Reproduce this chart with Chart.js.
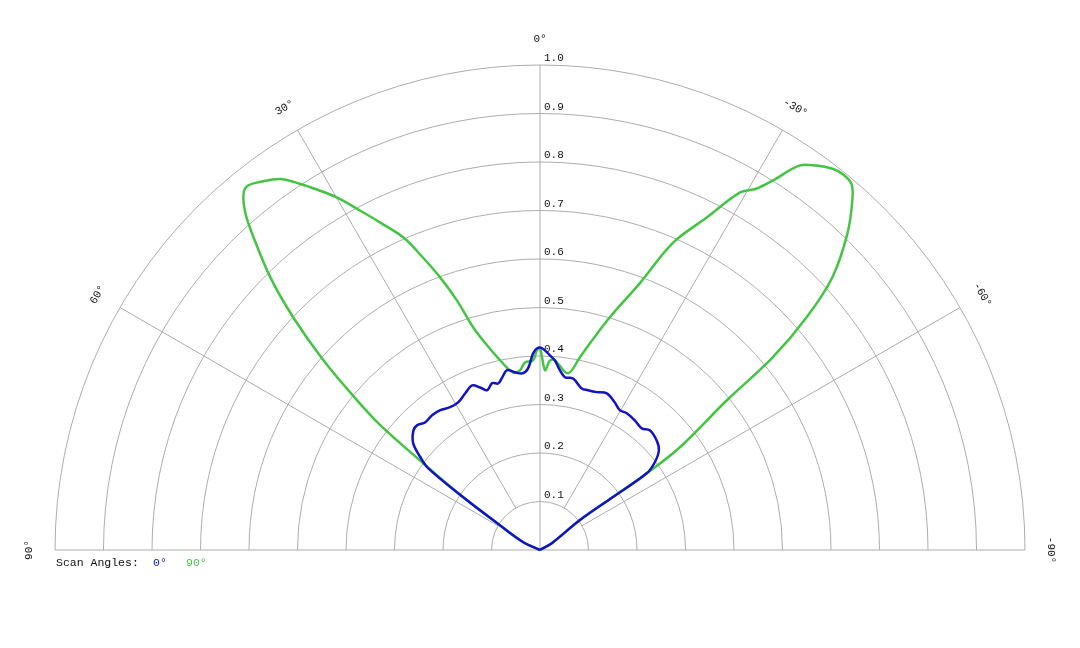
<!DOCTYPE html>
<html>
<head>
<meta charset="utf-8">
<script src="https://cdn.jsdelivr.net/npm/chart.js@4"></script>
<style>
  html, body { margin: 0; padding: 0; background: #fff; }
  #wrap { width: 1080px; height: 648px; position: relative; }
</style>
</head>
<body>
<div id="wrap"><canvas id="polarChart"></canvas></div>
<script>
// angles in degrees, positive to the left of 0°
const scanLabels = ["0°", "90°"];

const blueAngles = [90, 64.8, 57.9, 55.5, 53.8, 52.2, 49.9, 46.6, 44.5, 41.9, 38.7, 35.5, 32.2, 29.0,
    25.5, 22.4, 20.2, 18.3, 16.0, 14.1, 12.4, 10.4, 8.0, 5.8, 3.8, 2.0, 0.8, -0.6, -2.9, -4.5,
    -6.3, -8.2, -10.9, -14.5, -16.7, -19.8, -23.1, -26.9, -29.7, -32.4, -36.2, -39.9, -42.5,
    -46.8, -50.0, -52.6, -54.3, -54.0, -53.1, -59.7, -90];
const blueValues = [0, 0.039, 0.104, 0.192, 0.286, 0.312, 0.342, 0.359, 0.361, 0.354, 0.356, 0.354, 0.348, 0.348,
    0.358, 0.367, 0.357, 0.347, 0.358, 0.354, 0.364, 0.377, 0.370, 0.366, 0.375, 0.406, 0.416, 0.416, 0.402, 0.392,
    0.373, 0.360, 0.360, 0.344, 0.344, 0.346, 0.351, 0.341, 0.332, 0.334, 0.331, 0.327, 0.335,
    0.330, 0.320, 0.298, 0.271, 0.186, 0.103, 0.029, 0];

const greenAngles = [90, 64.8, 57.9, 55.5, 53.4, 52.0, 50.6, 48.8, 46.7, 44.7, 42.5, 41.2, 39.8, 38.8,
    37.2, 35.0, 33.2, 31.7, 29.9, 28.2, 26.0, 23.6, 21.8, 20.1, 18.4, 16.7, 14.5, 11.9, 8.6, 6.3,
    4.6, 2.1, 0.9, 0, -1.6, -3.0, -4.5, -9.0, -11.7, -14.1, -16.7, -20.5, -23.4, -26.6, -29.2,
    -30.9, -32.2, -34.0, -35.7, -37.5, -38.8, -40.4, -41.8, -44.2, -47.0, -48.9, -50.4, -51.3,
    -53.7, -54.3, -54.0, -53.1, -59.7, -90];
const greenValues = [0, 0.039, 0.104, 0.192, 0.300, 0.418, 0.493, 0.593, 0.699, 0.790, 0.874, 0.922, 0.955, 0.963,
    0.953, 0.934, 0.902, 0.873, 0.838, 0.798, 0.751, 0.703, 0.649, 0.598, 0.542, 0.479, 0.436, 0.400, 0.370, 0.373,
    0.388, 0.391, 0.412, 0.416, 0.371, 0.391, 0.392, 0.369, 0.406, 0.448, 0.501, 0.587, 0.690, 0.766, 0.844,
    0.868, 0.900, 0.956, 0.976, 0.991, 0.995, 0.991, 0.966, 0.909, 0.824, 0.729, 0.622, 0.493,
    0.358, 0.271, 0.186, 0.103, 0.029, 0];

const radialTicks = [0.1, 0.2, 0.3, 0.4, 0.5, 0.6, 0.7, 0.8, 0.9, 1.0];
const angleTicks = [90, 60, 30, 0, -30, -60, -90];

const FONT = "'Liberation Mono', 'DejaVu Sans Mono', monospace";
const GRID = "#adadad";

function toXY(angles, values) {
    return angles.map((a, i) => {
        const t = a * Math.PI / 180;
        return { x: -values[i] * Math.sin(t), y: values[i] * Math.cos(t) };
    });
}

function polarPx(chart, r, deg) {
    const t = deg * Math.PI / 180;
    return [
        chart.scales.x.getPixelForValue(-r * Math.sin(t)),
        chart.scales.y.getPixelForValue(r * Math.cos(t))
    ];
}

const polarGrid = {
    id: "polarGrid",
    beforeDatasetsDraw(chart) {
        const ctx = chart.ctx;
        const xs = chart.scales.x;
        const ys = chart.scales.y;
        const cx = xs.getPixelForValue(0);
        const cy = ys.getPixelForValue(0);
        const unit = xs.getPixelForValue(1) - cx;

        ctx.save();
        ctx.strokeStyle = GRID;
        ctx.lineWidth = 1;

        radialTicks.forEach(r => {
            ctx.beginPath();
            ctx.arc(cx, cy, r * unit, Math.PI, 2 * Math.PI);
            ctx.stroke();
        });

        angleTicks.forEach(a => {
            const inner = (a === 0 || Math.abs(a) === 90) ? 0 : radialTicks[0];
            const p0 = polarPx(chart, inner, a);
            const p1 = polarPx(chart, 1, a);
            ctx.beginPath();
            ctx.moveTo(p0[0], p0[1]);
            ctx.lineTo(p1[0], p1[1]);
            ctx.stroke();
        });

        // tick labels up the 0° line
        ctx.fillStyle = "#111";
        ctx.font = "11px " + FONT;
        ctx.textAlign = "left";
        ctx.textBaseline = "bottom";
        radialTicks.forEach(r => {
            ctx.fillText(r.toFixed(1), cx + 4, ys.getPixelForValue(r) - 1);
        });

        // angle labels, turned along the circle
        ctx.textAlign = "center";
        ctx.textBaseline = "middle";
        angleTicks.forEach(a => {
            const p = polarPx(chart, 1.053, a);
            ctx.save();
            ctx.translate(p[0], p[1]);
            ctx.rotate(-a * Math.PI / 180);
            ctx.fillText(a + "°", 0, 0);
            ctx.restore();
        });
        ctx.restore();
    },
    afterDraw(chart) {
        const ctx = chart.ctx;
        const y = chart.scales.y.getPixelForValue(0) + 13;
        ctx.save();
        ctx.font = "11.5px " + FONT;
        ctx.textBaseline = "middle";
        ctx.textAlign = "left";
        ctx.fillStyle = "#111";
        ctx.fillText("Scan Angles:", 56, y);
        const xs = [153, 186];
        chart.data.datasets.forEach((ds, i) => {
            ctx.fillStyle = ds.borderColor;
            ctx.fillText(ds.label, xs[i], y);
        });
        ctx.restore();
    }
};

new Chart(document.getElementById("polarChart"), {
    type: "scatter",
    data: {
        datasets: [
            {
                label: scanLabels[0],
                data: toXY(blueAngles, blueValues),
                borderColor: "#1212c6",
                borderWidth: 2.5,
                showLine: true,
                tension: 0.35,
                pointRadius: 0,
                order: 1
            },
            {
                label: scanLabels[1],
                data: toXY(greenAngles, greenValues),
                borderColor: "#44c444",
                borderWidth: 2.5,
                showLine: true,
                tension: 0.35,
                pointRadius: 0,
                order: 2
            }
        ]
    },
    options: {
        responsive: true,
        maintainAspectRatio: false,
        animation: false,
        clip: false,
        layout: { padding: { left: 55, right: 55, top: 65, bottom: 98 } },
        scales: {
            x: { type: "linear", min: -1, max: 1, display: false },
            y: { type: "linear", min: 0, max: 1, display: false }
        },
        plugins: {
            legend: { display: false },
            tooltip: { enabled: false }
        }
    },
    plugins: [polarGrid]
});
</script>
</body>
</html>
